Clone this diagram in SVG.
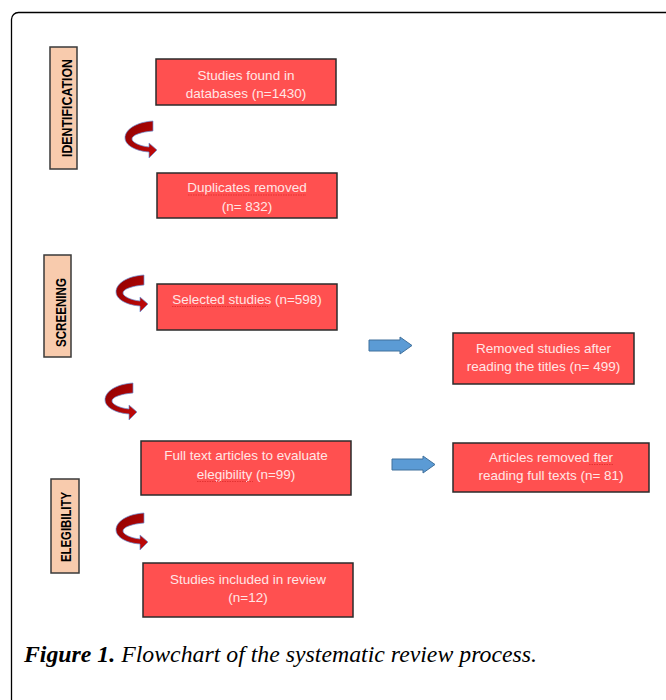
<svg xmlns="http://www.w3.org/2000/svg" width="666" height="700" viewBox="0 0 666 700">
<defs>
<style>
.box{fill:#FF5050;stroke:#2b2b2b;stroke-width:1.5}
.bt{font-family:"Liberation Sans",Arial,sans-serif;font-size:13.5px;fill:#FFE6E6;text-anchor:middle}
.lab{fill:#F8CBAD;stroke:#3a3a3a;stroke-width:1.5}
.lt{font-family:"Liberation Sans",Arial,sans-serif;font-size:14px;font-weight:bold;fill:#000;text-anchor:middle}
.blue{fill:#5B9BD5;stroke:#41719C;stroke-width:1}
.curve{fill:url(#rg);stroke:#6E94D8;stroke-width:1;stroke-opacity:0.7}
.spell{fill:none;stroke:#E03030;stroke-width:0.9;stroke-dasharray:1.5 1}
.cap{font-family:"Liberation Serif","Times New Roman",serif;font-size:23px;font-style:italic;fill:#000}
</style>
<linearGradient id="rg" x1="0" y1="0" x2="1" y2="1">
<stop offset="0" stop-color="#8E0000"/>
<stop offset="1" stop-color="#C40A0A"/>
</linearGradient>
<path id="carrow" d="M30,0 C14,1 2,8 2,17 C2,24 12,30 26,31 L26,37 L34,29 L26,22 L26,26 C16,25 9,21 9,18 C9,14 18,11 30,10 Z"/>
</defs>
<rect x="11.5" y="12.5" width="720" height="740" rx="7" fill="#fff" stroke="#000" stroke-width="1.3"/>

<g id="label-identification">
<rect class="lab" x="50" y="47" width="27" height="122"/>
<text class="lt" transform="translate(71.5,108) rotate(-90)" textLength="98" lengthAdjust="spacingAndGlyphs">IDENTIFICATION</text>
</g>
<g id="label-screening">
<rect class="lab" x="44" y="255" width="27" height="102"/>
<text class="lt" transform="translate(65.5,312.5) rotate(-90)" textLength="69" lengthAdjust="spacingAndGlyphs">SCREENING</text>
</g>
<g id="label-elegibility">
<rect class="lab" x="51" y="479" width="28" height="94"/>
<text class="lt" transform="translate(71,527) rotate(-90)" textLength="70" lengthAdjust="spacingAndGlyphs">ELEGIBILITY</text>
</g>

<g id="n1">
<rect class="box" x="156" y="59" width="180" height="46"/>
<text class="bt" x="246" y="80">Studies found in</text>
<text class="bt" x="246" y="98">databases (n=1430)</text>
</g>
<g id="n2">
<rect class="box" x="157" y="173" width="180" height="45"/>
<text class="bt" x="247" y="192">Duplicates removed</text>
<text class="bt" x="247" y="211">(n= 832)</text>
<path class="spell" d="M188,195 L306,195"/>
</g>
<g id="n3">
<rect class="box" x="157" y="284" width="180" height="46"/>
<text class="bt" x="247" y="304">Selected studies (n=598)</text>
<path class="spell" d="M172,306.5 L268,306.5"/>
</g>
<g id="n4">
<rect class="box" x="453" y="333" width="181" height="51"/>
<text class="bt" x="543.5" y="353">Removed studies after</text>
<text class="bt" x="543.5" y="371">reading the titles (n= 499)</text>
</g>
<g id="n5">
<rect class="box" x="141" y="441" width="210" height="54"/>
<text class="bt" x="246" y="460">Full text articles to evaluate</text>
<text class="bt" x="246" y="479">elegibility (n=99)</text>
<path class="spell" d="M197,481.5 L253,481.5"/>
</g>
<g id="n6">
<rect class="box" x="453" y="443" width="196" height="49"/>
<text class="bt" x="551" y="462">Articles removed fter</text>
<text class="bt" x="551" y="480">reading full texts (n= 81)</text>
<path class="spell" d="M589,464.5 L613,464.5"/>
</g>
<g id="n7">
<rect class="box" x="143" y="563" width="210" height="54"/>
<text class="bt" x="248" y="584">Studies included in review</text>
<text class="bt" x="248" y="602">(n=12)</text>
</g>

<g id="connectors">
<use href="#carrow" class="curve" transform="translate(123,121)"/>
<use href="#carrow" class="curve" transform="translate(114,275)"/>
<use href="#carrow" class="curve" transform="translate(103,383)"/>
<use href="#carrow" class="curve" transform="translate(114,513)"/>
<path class="blue" d="M369,340 L400,340 L400,337 L412,345.5 L400,354 L400,351 L369,351 Z"/>
<path class="blue" d="M392,459 L423,459 L423,456 L435,464.5 L423,473 L423,470 L392,470 Z"/>
</g>

<text class="cap" x="24" y="662" textLength="513" lengthAdjust="spacingAndGlyphs"><tspan font-weight="bold">Figure 1.</tspan> Flowchart of the systematic review process.</text>
</svg>
